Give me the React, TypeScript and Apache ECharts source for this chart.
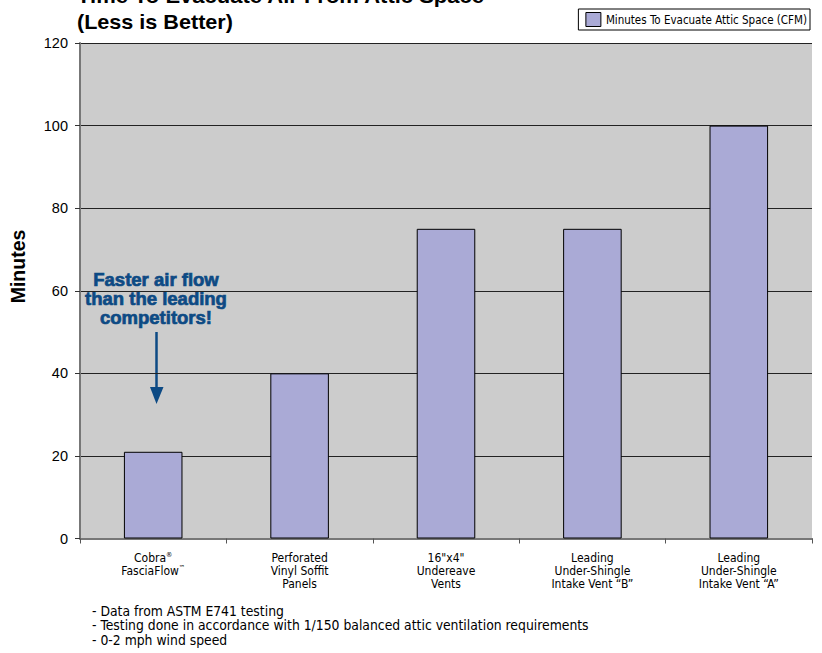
import React, { useEffect, useRef } from "react";
import * as echarts from "echarts";

const categories = [
  "Cobra{sup|®}\nFasciaFlow{sup|™}",
  "Perforated\nVinyl Soffit\nPanels",
  "16\"x4\"\nUndereave\nVents",
  "Leading\nUnder-Shingle\nIntake Vent “B”",
  "Leading\nUnder-Shingle\nIntake Vent “A”",
];
const minutes = [21, 40, 75, 75, 100];
const yTicks = { min: 0, max: 120, interval: 20 };
const seriesName = "Minutes To Evacuate Attic Space (CFM)";
const yAxisTitle = "Minutes";
const titleLines = ["Time To Evacuate Air From Attic Space", "(Less is Better)"];
const annotation = ["Faster air flow", "than the leading", "competitors!"];
const footnotes = [
  "- Data from ASTM E741 testing",
  "- Testing done in accordance with 1/150 balanced attic ventilation requirements",
  "- 0-2 mph wind speed",
];

const NARROW = "'DejaVu Sans Condensed', 'Liberation Sans Narrow', 'Arial Narrow', sans-serif";
const SANS = "'Liberation Sans', Arial, Helvetica, sans-serif";
const BLUE = "#0d4a84";

export default function App() {
  const ref = useRef<HTMLDivElement>(null);
  useEffect(() => {
    if (!ref.current) return;
    const chart = echarts.init(ref.current, null, { renderer: "svg" });
    chart.setOption({
      animation: false,
      backgroundColor: "#ffffff",
      legend: {
        show: true,
        right: 12,
        top: 9,
        padding: [3, 3, 3, 7],
        borderColor: "#000",
        borderWidth: 1,
        itemWidth: 15,
        itemHeight: 14,
        icon: "rect",
        textStyle: { fontFamily: NARROW, fontSize: 11.5, color: "#000" },
        data: [{ name: seriesName, itemStyle: { color: "#aaaad6", borderColor: "#000", borderWidth: 1 } }],
      },
      grid: {
        left: 80,
        right: 10,
        top: 43,
        bottom: 114.5,
        show: true,
        backgroundColor: "#cccccc",
        borderWidth: 0,
        containLabel: false,
      },
      xAxis: {
        type: "category",
        data: categories,
        boundaryGap: true,
        axisLine: { show: true, lineStyle: { color: "#777", width: 2 } },
        axisTick: { show: true, alignWithLabel: false, length: 5, lineStyle: { color: "#555", width: 1 } },
        axisLabel: {
          interval: 0,
          margin: 13,
          fontFamily: NARROW,
          fontSize: 12,
          lineHeight: 12.8,
          color: "#000",
          verticalAlign: "top",
          rich: {
            sup: { fontFamily: NARROW, fontSize: 7, verticalAlign: "top", padding: [0, 0, 6, 0], color: "#000" },
          },
        },
      },
      yAxis: {
        type: "value",
        min: yTicks.min,
        max: yTicks.max,
        interval: yTicks.interval,
        axisLine: { show: true, lineStyle: { color: "#777", width: 2 } },
        axisTick: { show: true, length: 5, lineStyle: { color: "#333" } },
        axisLabel: { margin: 12, fontFamily: SANS, fontSize: 14.5, color: "#000" },
        splitLine: { show: true, lineStyle: { color: "#222", width: 1 } },
      },
      series: [
        {
          name: seriesName,
          type: "bar",
          data: minutes,
          barWidth: "40%",
          itemStyle: { color: "#aaaad6", borderColor: "#000", borderWidth: 1 },
        },
      ],
      graphic: [
        {
          type: "text",
          x: 77,
          y: -3.9,
          scaleX: 1.1,
          style: {
            text: titleLines[0],
            fill: "#000",
            fontFamily: SANS,
            fontWeight: "bold",
            fontSize: 20,
            align: "left",
            verticalAlign: "middle",
          },
        },
        {
          type: "text",
          x: 77,
          y: 21.4,
          scaleX: 1.08,
          style: {
            text: titleLines[1],
            fill: "#000",
            fontFamily: SANS,
            fontWeight: "bold",
            fontSize: 20,
            align: "left",
            verticalAlign: "middle",
          },
        },
        {
          type: "text",
          x: 18,
          y: 266.5,
          rotation: Math.PI / 2,
          style: {
            text: yAxisTitle,
            fill: "#000",
            fontFamily: SANS,
            fontWeight: "bold",
            fontSize: 19.5,
            align: "center",
            verticalAlign: "middle",
          },
        },
        {
          type: "text",
          x: 156,
          y: 270,
          style: {
            text: annotation.join("\n"),
            fill: BLUE,
            stroke: BLUE,
            lineWidth: 0.7,
            fontFamily: SANS,
            fontWeight: "bold",
            fontSize: 18.5,
            lineHeight: 19,
            align: "center",
            verticalAlign: "top",
          },
        },
        {
          type: "line",
          shape: { x1: 156.5, y1: 332, x2: 156.5, y2: 390 },
          style: { stroke: BLUE, lineWidth: 2.5 },
        },
        {
          type: "polygon",
          shape: { points: [[150, 387], [163.5, 387], [156.5, 404]] },
          style: { fill: BLUE },
        },
        {
          type: "text",
          x: 92,
          y: 603.5,
          style: {
            text: footnotes.join("\n"),
            fill: "#000",
            fontFamily: NARROW,
            fontSize: 13.8,
            lineHeight: 14.5,
            align: "left",
            verticalAlign: "top",
          },
        },
      ],
    });
    return () => chart.dispose();
  }, []);
  return <div ref={ref} style={{ width: 822, height: 653, position: "absolute", left: 0, top: 0 }} />;
}
